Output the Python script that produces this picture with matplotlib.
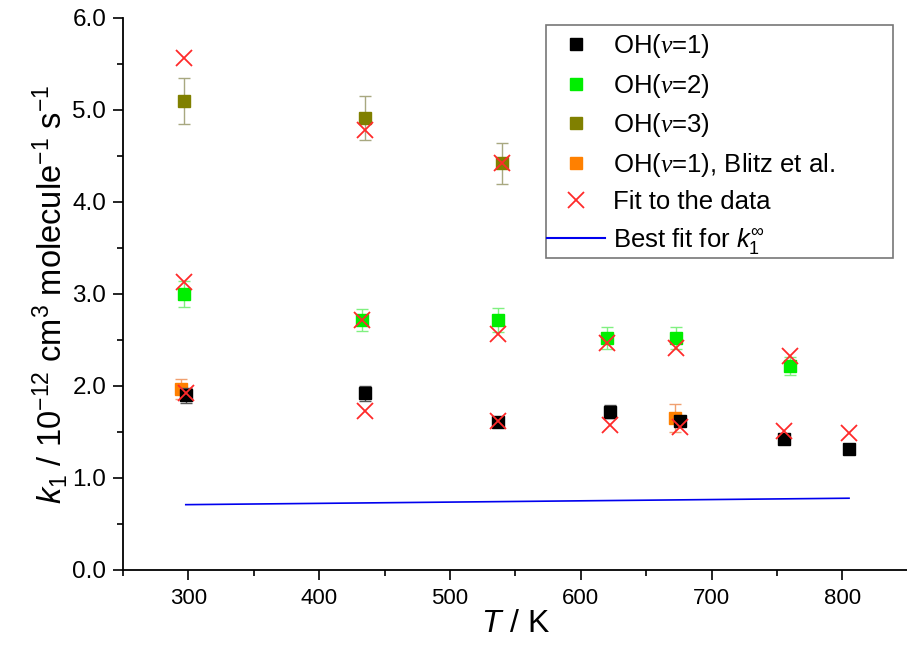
import matplotlib
matplotlib.use("Agg")
import matplotlib.pyplot as plt
from matplotlib.ticker import MultipleLocator, FormatStrFormatter
from matplotlib.lines import Line2D
from matplotlib.patches import Rectangle

plt.rcParams['font.family'] = ['Liberation Sans', 'DejaVu Sans']
plt.rcParams['mathtext.fontset'] = 'custom'
plt.rcParams['mathtext.rm'] = 'Liberation Sans'
plt.rcParams['mathtext.it'] = 'Liberation Sans:italic'
plt.rcParams['mathtext.cal'] = 'Liberation Serif:italic'

# ---- data ----
T_v1 = [298, 435, 537, 622, 676, 755, 805]
k_v1 = [1.90, 1.92, 1.61, 1.72, 1.62, 1.42, 1.32]
e_v1 = [0.08, 0.08, 0.05, 0.07, 0.05, 0.0, 0.0]

T_v2 = [297, 433, 537, 620, 673, 760]
k_v2 = [3.00, 2.72, 2.72, 2.52, 2.52, 2.22]
e_v2 = [0.14, 0.12, 0.13, 0.12, 0.12, 0.10]

T_v3 = [297, 435, 540]
k_v3 = [5.10, 4.91, 4.42]
e_v3 = [0.25, 0.24, 0.22]

T_bl = [294, 672]
k_bl = [1.97, 1.65]
e_bl = [0.11, 0.15]

T_fit = [297, 297, 298, 435, 433, 435, 540, 537, 537, 620, 622, 673, 676, 760, 755, 805]
k_fit = [5.57, 3.13, 1.92, 4.78, 2.72, 1.73, 4.42, 2.57, 1.62, 2.47, 1.58, 2.41, 1.55, 2.33, 1.51, 1.49]

T_best = [298, 805]
k_best = [0.71, 0.78]

W, H = 907, 661
fig = plt.figure(figsize=(W / 100, H / 100), dpi=100)
ax = fig.add_axes([0.1356, 0.1377, 0.8654, 0.8351])

ms = 8.5
ax.errorbar(T_v1, k_v1, yerr=e_v1, fmt='s', color='black', ecolor='#555555',
            ms=ms, capsize=4, elinewidth=1, capthick=1, zorder=3)
ax.errorbar(T_v2, k_v2, yerr=e_v2, fmt='s', color='#00ee00', ecolor='#80f080',
            ms=ms, capsize=4, elinewidth=1, capthick=1, zorder=3)
ax.errorbar(T_v3, k_v3, yerr=e_v3, fmt='s', color='#808000', ecolor='#a8a880',
            ms=ms, capsize=4, elinewidth=1, capthick=1, zorder=3)
ax.errorbar(T_bl, k_bl, yerr=e_bl, fmt='s', color='#ff8000', ecolor='#f0a070',
            ms=ms, capsize=4, elinewidth=1, capthick=1, zorder=2)
ax.plot(T_fit, k_fit, 'x', color='#ff2a2a', ms=11, mew=1.3, zorder=4)
ax.plot(T_best, k_best, '-', color='#0000ee', lw=1.2, zorder=2)

ax.set_xlim(250, 850)
ax.set_ylim(0, 6)
ax.xaxis.set_major_locator(MultipleLocator(100))
ax.xaxis.set_minor_locator(MultipleLocator(50))
ax.yaxis.set_major_locator(MultipleLocator(1))
ax.yaxis.set_minor_locator(MultipleLocator(0.5))
ax.yaxis.set_major_formatter(FormatStrFormatter('%.1f'))
ax.spines['top'].set_visible(False)
ax.spines['right'].set_visible(False)
for s in ('left', 'bottom'):
    ax.spines[s].set_linewidth(1.3)
ax.tick_params(which='major', direction='out', length=7, width=1.2)
ax.tick_params(which='minor', direction='out', length=4, width=1.2)
ax.tick_params(axis='x', pad=6, labelsize=16)
ax.tick_params(axis='y', pad=5, labelsize=17.5)

ax.set_xlabel(r'$\mathit{T}$ / K', fontsize=23, labelpad=0)
ax.set_ylabel(r'$\mathit{k}_1$ / 10$^{-12}$ cm$^3$ molecule$^{-1}$ s$^{-1}$', fontsize=23.5, labelpad=2)

handles = [
    Line2D([], [], ls='none', marker='s', color='black', ms=ms),
    Line2D([], [], ls='none', marker='s', color='#00ee00', ms=ms),
    Line2D([], [], ls='none', marker='s', color='#808000', ms=ms),
    Line2D([], [], ls='none', marker='s', color='#ff8000', ms=ms),
    Line2D([], [], ls='none', marker='x', color='#ff2a2a', ms=11, mew=1.3),
    Line2D([], [], ls='-', color='#0000ee', lw=1.5),
]
labels = [r'OH($\mathcal{v}$=1)', r'OH($\mathcal{v}$=2)', r'OH($\mathcal{v}$=3)',
          r'OH($\mathcal{v}$=1), Blitz et al.', 'Fit to the data',
          r'Best fit for $\mathit{k}_1^{\infty}$']

# legend frame (Origin-style, extra padding on the right)
fx0, fx1, fy0, fy1 = 546, 893, 25, 258
frame = Rectangle((fx0 / W, 1 - fy1 / H), (fx1 - fx0) / W, (fy1 - fy0) / H,
                  transform=fig.transFigure, facecolor='white',
                  edgecolor='#777777', lw=1.2, zorder=5, clip_on=False)
ax.add_artist(frame)
leg = ax.legend(handles, labels, loc='upper left',
                bbox_to_anchor=(547 / W, 1 - 32 / H), bbox_transform=fig.transFigure,
                fontsize=18.5, frameon=False, borderpad=0, labelspacing=0.45,
                handlelength=2.26, handletextpad=0.3, borderaxespad=0)
leg.set_zorder(6)

fig.savefig('out.png', dpi=100)
